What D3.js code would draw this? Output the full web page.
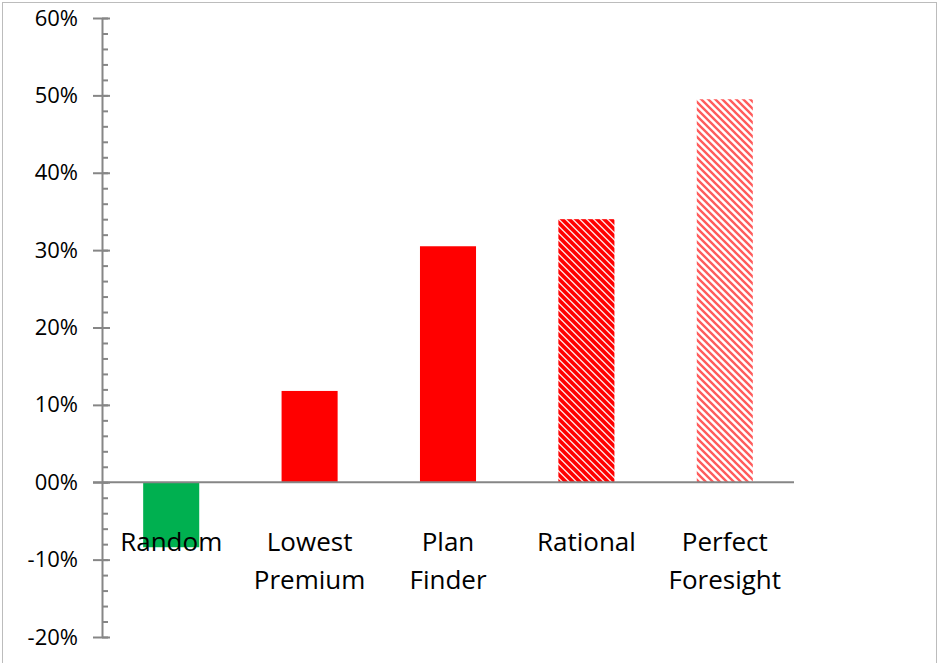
<!DOCTYPE html>
<html>
<head>
<meta charset="utf-8">
<script src="https://cdn.jsdelivr.net/npm/d3@7"></script>
<style>
  html, body { margin: 0; padding: 0; background: #fff; }
  svg { display: block; }
  text { font-family: "Open Sans", "Noto Sans", sans-serif; fill: #000; }
</style>
</head>
<body>
<svg id="chart" width="937" height="663"></svg>
<script>
// Categories (each label may wrap onto two lines)
const categories = ["Random", "Lowest Premium", "Plan Finder", "Rational", "Perfect Foresight"];
const categoryLines = [["Random"], ["Lowest", "Premium"], ["Plan", "Finder"], ["Rational"], ["Perfect", "Foresight"]];
// Change relative to baseline, as fractions
const values = [-0.084, 0.118, 0.305, 0.340, 0.495];
// Fill style of each bar
const fills = ["solid-green", "solid-red", "solid-red", "hatch-dense", "hatch-light"];
// Major y-axis ticks and their labels
const tickValues = [-0.2, -0.1, 0, 0.1, 0.2, 0.3, 0.4, 0.5, 0.6];
const tickLabels = ["-20%", "-10%", "00%", "10%", "20%", "30%", "40%", "50%", "60%"];
const minorTickValues = d3.range(-20, 61, 2).map(v => v / 100);

const svg = d3.select("#chart");

// Outer frame
svg.append("rect")
  .attr("x", 2.5).attr("y", 2.5)
  .attr("width", 934).attr("height", 662)
  .attr("fill", "none").attr("stroke", "#bcbcbc").attr("stroke-width", 1);

const y = d3.scaleLinear().domain([-0.2, 0.6]).range([637, 18]);
const x = d3.scaleBand().domain(categories).range([102, 794])
  .paddingInner(0.595).paddingOuter(0.2975);

// Hatch patterns (downward diagonal stripes)
const defs = svg.append("defs");
function hatch(id, bg, fg, sw, size) {
  const p = defs.append("pattern")
    .attr("id", id).attr("patternUnits", "userSpaceOnUse")
    .attr("width", size).attr("height", size);
  p.append("rect").attr("width", size).attr("height", size).attr("fill", bg);
  p.append("path")
    .attr("d", `M${-size},0 L${2 * size},${3 * size} M0,${-size} L${2 * size},${size} M${-size},${-size} L${2 * size},${2 * size}`)
    .attr("stroke", fg).attr("stroke-width", sw).attr("fill", "none");
}
hatch("hatch-dense", "#ffe4e4", "#ff0000", 3.6, 7);
hatch("hatch-light", "#ffffff", "#ff5c5c", 2.4, 7);

const fillFor = f => ({
  "solid-green": "#00b050",
  "solid-red": "#ff0000",
  "hatch-dense": "url(#hatch-dense)",
  "hatch-light": "url(#hatch-light)"
}[f]);

// Bars
svg.append("g").selectAll("rect")
  .data(categories)
  .join("rect")
  .attr("x", d => x(d))
  .attr("width", x.bandwidth())
  .attr("y", (d, i) => y(Math.max(0, values[i])))
  .attr("height", (d, i) => Math.abs(y(values[i]) - y(0)))
  .attr("fill", (d, i) => fillFor(fills[i]));

const axisColor = "#868686";

// Minor ticks on the right side of the axis
const minorAxis = svg.append("g")
  .attr("transform", "translate(102,0)")
  .call(d3.axisLeft(y).tickValues(minorTickValues).tickSize(-6).tickFormat(""));
minorAxis.select(".domain").remove();
minorAxis.selectAll(".tick line").attr("stroke", axisColor).attr("stroke-width", 2);

// Major axis with ticks crossing the spine
const majorAxis = svg.append("g")
  .attr("transform", "translate(102,0)")
  .call(d3.axisLeft(y).tickValues(tickValues).tickSizeOuter(0)
    .tickFormat((d, i) => tickLabels[i]));
majorAxis.select(".domain").attr("stroke", axisColor).attr("stroke-width", 2);
majorAxis.selectAll(".tick line")
  .attr("x1", -9).attr("x2", 8)
  .attr("stroke", axisColor).attr("stroke-width", 2);
majorAxis.selectAll(".tick text")
  .attr("x", -24)
  .style("font-size", "22px")
  .style("font-family", '"Open Sans", sans-serif')
  .attr("fill", "#000");

// Zero baseline
svg.append("line")
  .attr("x1", 93).attr("x2", 794)
  .attr("y1", y(0)).attr("y2", y(0))
  .attr("stroke", axisColor).attr("stroke-width", 2);

// Category labels
const lbl = svg.append("g").selectAll("text")
  .data(categories)
  .join("text")
  .attr("text-anchor", "middle")
  .style("font-size", "26px");
lbl.each(function (d, i) {
  const t = d3.select(this);
  categoryLines[i].forEach((line, j) => {
    t.append("tspan")
      .attr("x", x(d) + x.bandwidth() / 2)
      .attr("y", 551 + j * 38)
      .text(line);
  });
});
</script>
</body>
</html>
